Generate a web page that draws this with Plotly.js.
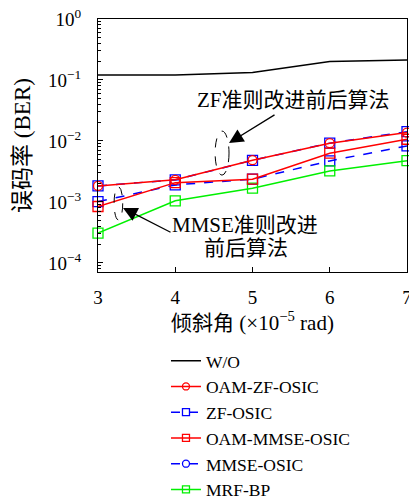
<!DOCTYPE html>
<html>
<head>
<meta charset="utf-8">
<script src="https://cdn.plot.ly/plotly-3.0.1.min.js"></script>
<style>html,body{margin:0;padding:0;background:#fff;}#chart{width:409px;height:497px;}</style>
</head>
<body>
<div id="chart"></div>
<script>
// ---- data ----
const tiltAngles = [3, 4, 5, 6, 7];
const berWO        = [0.121, 0.121, 0.132, 0.200, 0.213];
const berOamZf     = [0.00183, 0.00230, 0.00483, 0.00917, 0.0137];
const berZf        = [0.00183, 0.00230, 0.00480, 0.00920, 0.0142];
const berOamMmse   = [0.00084, 0.00207, 0.00236, 0.00629, 0.01066];
const berMmse      = [0.00101, 0.00190, 0.00236, 0.00470, 0.00828];
const berMrfBp     = [0.000307, 0.00104, 0.00168, 0.00322, 0.00475];
const yTickVals    = [1, 0.1, 0.01, 0.001, 0.0001];
const yTickText    = ['10<sup>0</sup>', '10<sup>−1</sup>', '10<sup>−2</sup>', '10<sup>−3</sup>', '10<sup>−4</sup>'];
const seriesNames  = ['W/O', 'OAM-ZF-OSIC', 'ZF-OSIC', 'OAM-MMSE-OSIC', 'MMSE-OSIC', 'MRF-BP'];

const RED = '#ff0000', BLUE = '#0000ff', GREEN = '#00f000', BLACK = '#000000';
const SERIF = 'Liberation Serif, Noto Sans CJK SC, serif';

function tr(y, color, dash, symbol, size) {
  const t = {
    x: tiltAngles, y: y, type: 'scatter', mode: symbol ? 'lines+markers' : 'lines',
    line: {color: color, width: 1.5, dash: dash},
    showlegend: false, hoverinfo: 'skip', cliponaxis: false
  };
  if (symbol) t.marker = {symbol: symbol, size: size, color: color, line: {color: color, width: 1.3}};
  return t;
}
function proxy(name, color, dash, symbol) {
  const t = {
    x: [null], y: [null], type: 'scatter', name: name,
    mode: symbol ? 'lines+markers' : 'lines',
    line: {color: color, width: 1.5, dash: dash},
    showlegend: true
  };
  if (symbol) t.marker = {symbol: symbol, size: 7, color: color, line: {color: color, width: 1.3}};
  return t;
}

const data = [
  tr(berWO, BLACK, 'solid', null, 0),
  tr(berZf, BLUE, 'dash', 'square-open', 10),
  tr(berMmse, BLUE, 'dash', 'square-open', 10),
  tr(berMrfBp, GREEN, 'solid', 'square-open', 10),
  tr(berOamMmse, RED, 'solid', 'square-open', 10),
  tr(berOamZf, RED, 'solid', 'circle-open', 9),
  proxy(seriesNames[0], BLACK, 'solid', null),
  proxy(seriesNames[1], RED, 'solid', 'circle-open'),
  proxy(seriesNames[2], BLUE, 'dash', 'square-open'),
  proxy(seriesNames[3], RED, 'solid', 'square-open'),
  proxy(seriesNames[4], BLUE, 'dash', 'circle-open'),
  proxy(seriesNames[5], GREEN, 'solid', 'square-open')
];

const layout = {
  width: 409, height: 497,
  margin: {l: 98, r: 2, t: 19, b: 225, autoexpand: false},
  paper_bgcolor: '#fff', plot_bgcolor: '#fff',
  font: {family: SERIF, color: '#000', size: 18},
  showlegend: true,
  legend: {
    x: 0.22, y: -0.28, xanchor: 'left', yanchor: 'top',
    font: {family: SERIF, size: 17.5, color: '#000'},
    bgcolor: 'rgba(0,0,0,0)', borderwidth: 0, tracegroupgap: 0
  },
  xaxis: {
    range: [3, 7], dtick: 1, tick0: 3,
    showline: true, linecolor: '#000', linewidth: 1, mirror: true,
    ticks: 'inside', ticklen: 5, tickcolor: '#000',
    showgrid: false, zeroline: false,
    tickfont: {family: SERIF, size: 19},
    ticklabelstandoff: 8, ticklabeloverflow: 'allow',
    title: {text: '倾斜角 (×10<sup>−5</sup> rad)', font: {family: SERIF, size: 21}, standoff: 5}
  },
  yaxis: {
    type: 'log', range: [-4.15, 0],
    tickvals: yTickVals, ticktext: yTickText,
    showline: true, linecolor: '#000', linewidth: 1, mirror: true,
    ticks: 'inside', ticklen: 5, tickcolor: '#000',
    minor: {ticks: 'inside', ticklen: 3, tickcolor: '#000', dtick: 'D1', showgrid: false},
    showgrid: false, zeroline: false,
    tickfont: {family: SERIF, size: 19},
    ticklabelstandoff: 12,
    title: {text: '误码率 (BER)', font: {family: SERIF, size: 23}, standoff: 10}
  },
  shapes: [
    {type: 'circle', xref: 'paper', yref: 'paper', x0: 0.379, x1: 0.424, y0: 0.383, y1: 0.557,
     line: {color: '#000', width: 1, dash: 'dash'}},
    {type: 'circle', xref: 'paper', yref: 'paper', x0: 0.052, x1: 0.080, y0: 0.206, y1: 0.337,
     line: {color: '#000', width: 1, dash: 'dash'}}
  ],
  annotations: [
    {xref: 'paper', yref: 'paper', x: 0.634, y: 0.680, xanchor: 'center', yanchor: 'middle',
     text: 'ZF准则改进前后算法', showarrow: false, font: {family: SERIF, size: 21, color: '#000'}},
    {xref: 'paper', yref: 'paper', x: 0.476, y: 0.186, xanchor: 'center', yanchor: 'middle',
     text: 'MMSE准则改进', showarrow: false, font: {family: SERIF, size: 21, color: '#000'}},
    {xref: 'paper', yref: 'paper', x: 0.479, y: 0.095, xanchor: 'center', yanchor: 'middle',
     text: '前后算法', showarrow: false, font: {family: SERIF, size: 21, color: '#000'}},
    {xref: 'paper', yref: 'paper', x: 0.424, y: 0.510, text: '', showarrow: true,
     ax: 47, ay: -29, arrowhead: 2, arrowsize: 2.2, arrowwidth: 1.3, arrowcolor: '#000'},
    {xref: 'paper', yref: 'paper', x: 0.081, y: 0.253, text: '', showarrow: true,
     ax: 49, ay: 25, arrowhead: 2, arrowsize: 2.2, arrowwidth: 1.3, arrowcolor: '#000'}
  ]
};

Plotly.newPlot('chart', data, layout, {displayModeBar: false, staticPlot: true});
</script>
</body>
</html>
